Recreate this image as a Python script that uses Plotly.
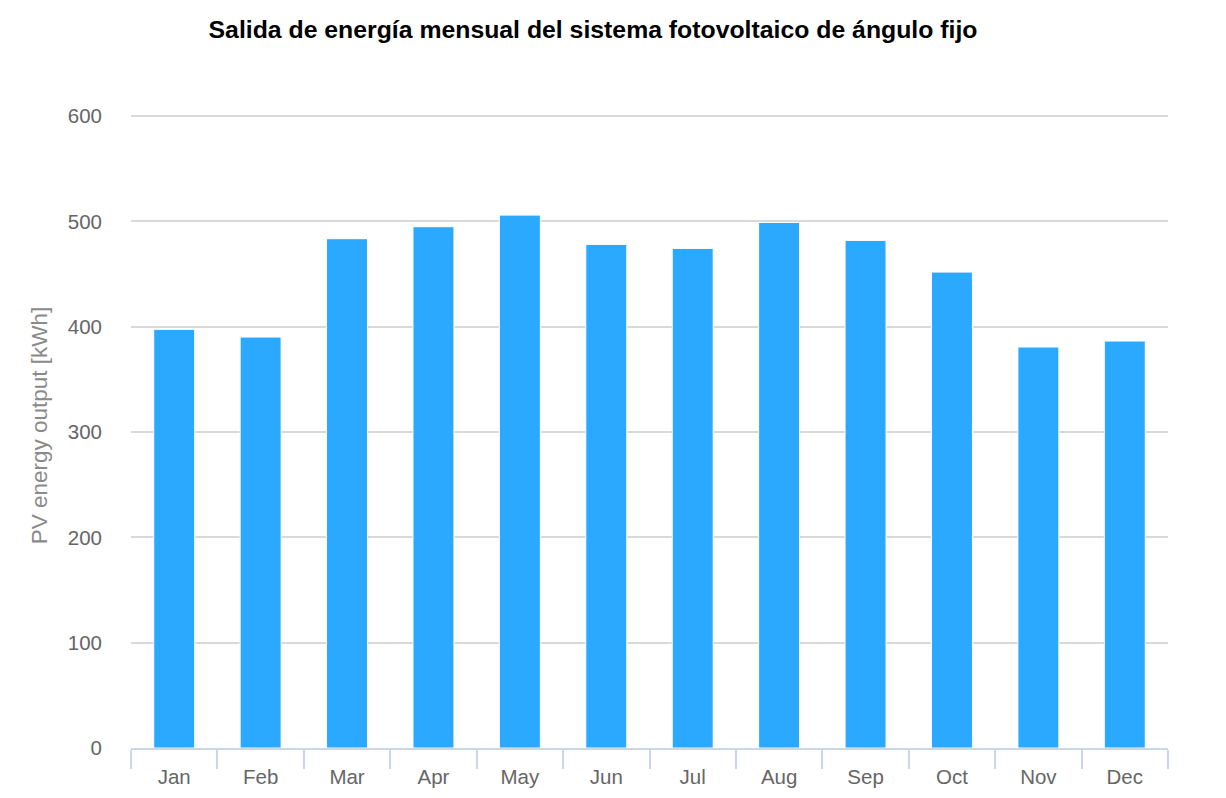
import plotly.graph_objects as go

months = ["Jan", "Feb", "Mar", "Apr", "May", "Jun", "Jul", "Aug", "Sep", "Oct", "Nov", "Dec"]
pv_output = [397.5, 390.2, 483.6, 495.0, 506.0, 478.2, 474.4, 499.0, 482.0, 451.9, 380.7, 386.4]
y_ticks = [0, 100, 200, 300, 400, 500, 600]

title_text = "Salida de energía mensual del sistema fotovoltaico de ángulo fijo"
y_title = "PV energy output [kWh]"

W, H = 1226, 798
OFF = 8  # page body margin
Y_TOP = 602
ml, mr, mt, mb = 131 - OFF, 1226 + OFF - 1168, 113.5 - OFF, 798 + OFF - 748

fig = go.Figure()
fig.add_trace(go.Bar(
    x=months, y=pv_output,
    marker=dict(color="#2ba8ff", line=dict(color="#ffffff", width=1)),
    hoverinfo="x+y",
))

fig.add_annotation(
    text=y_title, textangle=-90,
    xref="paper", yref="paper",
    x=(39 - OFF - ml) / (W - ml - mr), y=1 - (425 - OFF - mt) / (H - mt - mb),
    xanchor="center", yanchor="middle", showarrow=False,
    font=dict(size=22.5, color="#8a8a8a"),
)

fig.update_layout(
    width=W, height=H,
    margin=dict(l=ml, r=mr, t=mt, b=mb, pad=0),
    paper_bgcolor="#ffffff", plot_bgcolor="#ffffff",
    font=dict(family="Liberation Sans, Arial, Helvetica, sans-serif", color="#666666", size=20.5),
    bargap=0.526,
    showlegend=False,
    title=dict(
        text="<b>" + title_text + "</b>",
        x=(593 - OFF) / W, xanchor="center",
        y=1 - (29 - OFF) / H, yanchor="middle",
        font=dict(size=24.8, color="#000000", family="Liberation Sans, Arial, Helvetica, sans-serif"),
    ),
    xaxis=dict(
        type="category",
        categoryorder="array", categoryarray=months,
        showline=True, linecolor="#ccd6eb", linewidth=2,
        ticks="outside", tickson="boundaries", ticklen=19, tickwidth=2, tickcolor="#ccd6eb",
        showgrid=False, zeroline=False,
        tickfont=dict(size=20.5, color="#666666"),
        ticklabelstandoff=9,
    ),
    yaxis=dict(
        range=[0, Y_TOP],
        tickvals=y_ticks,
        showgrid=True, gridcolor="#d9d9d9", gridwidth=1.5,
        zeroline=False, showline=False,
        ticks="", tickfont=dict(size=20.5, color="#666666"),
        ticklabelstandoff=28,
    ),
)

fig.write_html("out.html")
